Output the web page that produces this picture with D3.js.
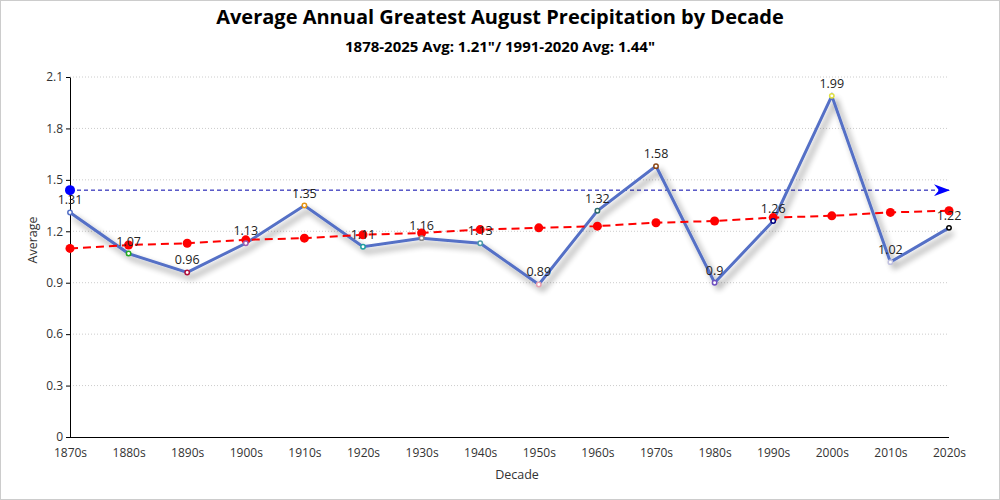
<!DOCTYPE html>
<html>
<head>
<meta charset="utf-8">
<script src="https://cdn.jsdelivr.net/npm/d3@7"></script>
<style>
body{margin:0;background:#fff;}
svg{display:block;font-family:"Open Sans","Noto Sans",sans-serif;}
</style>
</head>
<body>
<svg id="chart" width="1000" height="500"></svg>
<script>
const decades = ["1870s","1880s","1890s","1900s","1910s","1920s","1930s","1940s","1950s","1960s","1970s","1980s","1990s","2000s","2010s","2020s"];
const averages = [1.31,1.07,0.96,1.13,1.35,1.11,1.16,1.13,0.89,1.32,1.58,0.9,1.26,1.99,1.02,1.22];
const trend = [1.10,1.12,1.13,1.15,1.16,1.18,1.19,1.21,1.22,1.23,1.25,1.26,1.28,1.29,1.31,1.32];
const pointColors = ["#5470c6","#22aa22","#b0103a","#9a60b4","#e6920f","#20a0a0","#8a8a8a","#4a9aa8","#e8a0b0","#2a6a6a","#8b4513","#7050c0","#000080","#e0e040","#c0c0e0","#000000"];
const normalAvg = 1.44;
const yTicks = [0,0.3,0.6,0.9,1.2,1.5,1.8,2.1];
const title = "Average Annual Greatest August Precipitation by Decade";
const subtitle = "1878-2025 Avg: 1.21\"/ 1991-2020 Avg: 1.44\"";

const svg = d3.select("#chart");
const W = 1000, H = 500;
const m = {left:70, right:51, top:77, bottom:63};

svg.append("rect").attr("x",0.5).attr("y",0.5).attr("width",W-1).attr("height",H-1)
  .attr("fill","#fff").attr("stroke","#ccc");

const defs = svg.append("defs");
const f = defs.append("filter").attr("id","shadow").attr("x","-10%").attr("y","-10%").attr("width","130%").attr("height","140%");
f.append("feGaussianBlur").attr("in","SourceAlpha").attr("stdDeviation",3).attr("result","b");
f.append("feOffset").attr("in","b").attr("dx",4).attr("dy",5).attr("result","o");
f.append("feComponentTransfer").attr("in","o").attr("result","o2")
  .append("feFuncA").attr("type","linear").attr("slope",0.45);
const mg = f.append("feMerge");
mg.append("feMergeNode").attr("in","o2");
mg.append("feMergeNode").attr("in","SourceGraphic");

defs.append("marker").attr("id","arrow").attr("viewBox","0 0 16 12").attr("refX",15).attr("refY",6)
  .attr("markerWidth",16).attr("markerHeight",12).attr("markerUnits","userSpaceOnUse").attr("orient","auto")
  .append("path").attr("d","M0,0 L16,6 L0,12 L5,6 Z").attr("fill","#0000ff");

const x = d3.scalePoint().domain(decades).range([m.left, W-m.right]);
const y = d3.scaleLinear().domain([0,2.1]).range([H-m.bottom, m.top]);

// grid
svg.append("g").selectAll("line").data(yTicks.filter(d=>d>0)).join("line")
  .attr("x1",m.left).attr("x2",W-m.right).attr("y1",d=>y(d)).attr("y2",d=>y(d))
  .attr("stroke","#ccc").attr("stroke-dasharray","1,2");

// axes
const yAxis = svg.append("g").attr("transform",`translate(${m.left},0)`)
  .call(d3.axisLeft(y).tickValues(yTicks).tickFormat(d=>String(+d.toFixed(1))).tickSize(4).tickSizeOuter(0));
yAxis.select(".domain").attr("stroke","#000");
yAxis.selectAll("text").attr("font-size",12).attr("fill","#333").attr("font-family","'Open Sans',sans-serif");

const xAxis = svg.append("g").attr("transform",`translate(0,${H-m.bottom})`)
  .call(d3.axisBottom(x).tickSize(0).tickPadding(11));
xAxis.select(".domain").attr("stroke","#000").attr("d",`M${m.left},0.5H${W-m.right}`);
xAxis.selectAll("text").attr("font-size",12).attr("fill","#333").attr("font-family","'Open Sans',sans-serif");

// titles
svg.append("text").attr("x",500).attr("y",24).attr("text-anchor","middle")
  .attr("font-size",20).attr("font-weight","bold").attr("fill","#000").text(title);
svg.append("text").attr("x",500).attr("y",52).attr("text-anchor","middle")
  .attr("font-size",15).attr("font-weight","bold").attr("fill","#000").text(subtitle);
svg.append("text").attr("x",517).attr("y",479).attr("text-anchor","middle")
  .attr("font-size",12.5).attr("fill","#333").text("Decade");
svg.append("text").attr("transform","translate(37,240) rotate(-90)").attr("text-anchor","middle")
  .attr("font-size",12.5).attr("fill","#333").text("Average");

// normal avg line
svg.append("line").attr("x1",x(decades[0])).attr("x2",x(decades[decades.length-1]))
  .attr("y1",y(normalAvg)).attr("y2",y(normalAvg))
  .attr("stroke","#0000aa").attr("stroke-width",1).attr("stroke-dasharray","4,3")
  .attr("marker-end","url(#arrow)");
svg.append("circle").attr("cx",x(decades[0])).attr("cy",y(normalAvg)).attr("r",5).attr("fill","#0000ff");

// main line
const line = d3.line().x((d,i)=>x(decades[i])).y(d=>y(d));
svg.append("path").datum(averages).attr("d",line).attr("fill","none")
  .attr("stroke","#5470c6").attr("stroke-width",3).attr("filter","url(#shadow)");

// trend
svg.append("path").datum(trend).attr("d",line).attr("fill","none")
  .attr("stroke","#ff0000").attr("stroke-width",2).attr("stroke-dasharray","8,5");
svg.append("g").selectAll("circle").data(trend).join("circle")
  .attr("cx",(d,i)=>x(decades[i])).attr("cy",d=>y(d)).attr("r",4.5).attr("fill","#ff0000");

// points
svg.append("g").selectAll("circle").data(averages).join("circle")
  .attr("cx",(d,i)=>x(decades[i])).attr("cy",d=>y(d)).attr("r",2.2)
  .attr("fill","#fff").attr("stroke",(d,i)=>pointColors[i]).attr("stroke-width",1.5);

// labels
svg.append("g").selectAll("text").data(averages).join("text")
  .attr("x",(d,i)=>x(decades[i])).attr("y",d=>y(d)-8).attr("text-anchor","middle")
  .attr("font-size",12.5).attr("fill","#222").text(d=>String(d));
</script>
</body>
</html>
